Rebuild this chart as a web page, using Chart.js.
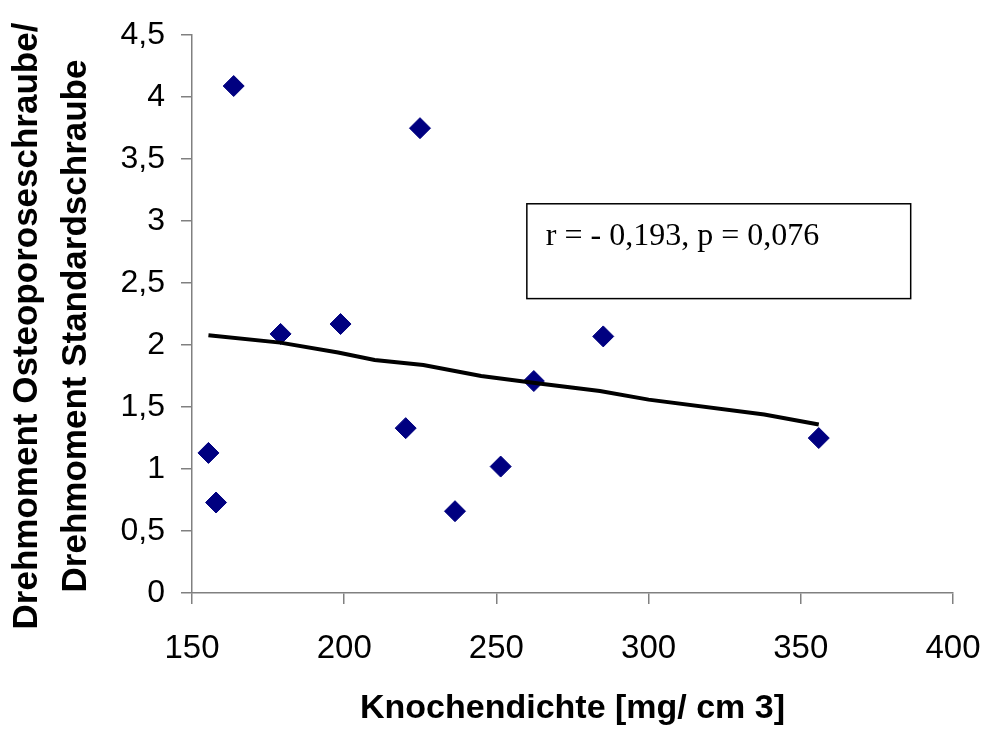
<!DOCTYPE html>
<html>
<head>
<meta charset="utf-8">
<script src="https://cdn.jsdelivr.net/npm/chart.js@4.4.1/dist/chart.umd.min.js"></script>
<style>
  html, body { margin: 0; padding: 0; background: #fff; }
  #wrap { width: 984px; height: 729px; position: relative; }
</style>
</head>
<body>
<div id="wrap"><canvas id="grafica"></canvas></div>
<script>
//--|datos|--//
const knochendichte = [155.4, 157.9, 163.7, 179.1, 198.8, 220.2, 224.9, 236.4, 251.4, 262.3, 285.1, 355.9];
const drehmomentRatio = [1.13, 0.73, 4.09, 2.09, 2.17, 1.33, 3.75, 0.66, 1.02, 1.71, 2.07, 1.25];
const trendX = [155.4, 179, 198, 210, 226, 245, 264, 284, 300, 338, 355.9];
const trendY = [2.08, 2.02, 1.94, 1.88, 1.84, 1.75, 1.69, 1.63, 1.56, 1.44, 1.36];
const xTicks = [150, 200, 250, 300, 350, 400];
const yTicks = [0, 0.5, 1, 1.5, 2, 2.5, 3, 3.5, 4, 4.5];
const yTitle = ['Drehmoment Osteoporoseschraube/', 'Drehmoment Standardschraube'];
const xTitle = 'Knochendichte [mg/ cm 3]';
const statText = "r = - 0,193, p = 0,076";
// Kasten in Datenkoordinaten
const statBox = { x0: 260, x1: 386.1, y0: 2.375, y1: 3.14 };

const FONT = '"Liberation Sans", Arial, sans-serif';

//--|caja_de_estadistica|--//
const statPlugin = {
    id: 'statBox',
    afterDatasetsDraw(chart) {
        const { ctx, scales } = chart;
        const left = scales.x.getPixelForValue(statBox.x0);
        const right = scales.x.getPixelForValue(statBox.x1);
        const top = scales.y.getPixelForValue(statBox.y1);
        const bottom = scales.y.getPixelForValue(statBox.y0);
        ctx.save();
        ctx.fillStyle = '#fff';
        ctx.fillRect(left, top, right - left, bottom - top);
        ctx.strokeStyle = '#000';
        ctx.lineWidth = 1.5;
        ctx.strokeRect(left, top, right - left, bottom - top);
        ctx.fillStyle = '#000';
        ctx.font = '32px "Liberation Serif", "Times New Roman", serif';
        ctx.textBaseline = 'middle';
        ctx.textAlign = 'left';
        ctx.fillText(statText, left + 19, top + 33);
        ctx.restore();
    }
};

//--|titulo_eje_y|--//
const yTitlePlugin = {
    id: 'yTitle',
    afterDraw(chart) {
        const { ctx } = chart;
        ctx.save();
        ctx.fillStyle = '#000';
        ctx.font = 'bold 35px ' + FONT;
        ctx.textAlign = 'center';
        ctx.textBaseline = 'middle';
        ctx.translate(0, 326);
        ctx.rotate(-Math.PI / 2);
        ctx.fillText(yTitle[0], 0, 27);
        ctx.fillText(yTitle[1], 0, 76);
        ctx.restore();
    }
};

const formatComma = v => String(v).replace('.', ',');

document.addEventListener("DOMContentLoaded", () => {
    const ctx = document.getElementById('grafica').getContext('2d');
    new Chart(ctx, {
        type: 'scatter',
        data: {
            datasets: [
                {
                    data: knochendichte.map((x, i) => ({ x: x, y: drehmomentRatio[i] })),
                    pointStyle: 'rectRot',
                    pointRadius: 10.5,
                    pointHoverRadius: 10.5,
                    backgroundColor: '#000080',
                    borderColor: '#000080',
                    borderWidth: 1,
                    order: 2
                },
                {
                    data: trendX.map((x, i) => ({ x: x, y: trendY[i] })),
                    showLine: true,
                    pointRadius: 0,
                    borderColor: '#000',
                    borderWidth: 4,
                    fill: false,
                    order: 1
                }
            ]
        },
        options: {
            responsive: true,
            maintainAspectRatio: false,
            animation: false,
            layout: { padding: { top: 34, right: 31, left: 0, bottom: 0 } },
            plugins: {
                legend: { display: false },
                tooltip: { enabled: false }
            },
            scales: {
                x: {
                    type: 'linear',
                    min: 150,
                    max: 400,
                    afterBuildTicks: s => { s.ticks = xTicks.map(v => ({ value: v })); },
                    afterFit: s => { s.height = 136; s.paddingLeft = 0; s.paddingRight = 0; },
                    border: { color: '#808080', width: 1.5 },
                    grid: { drawOnChartArea: false, tickLength: 11, color: '#808080', lineWidth: 1.5 },
                    ticks: {
                        color: '#000',
                        padding: 25,
                        font: { family: FONT, size: 33 },
                        maxRotation: 0
                    },
                    title: {
                        display: true,
                        text: xTitle,
                        color: '#000',
                        font: { family: FONT, size: 34, weight: 'bold' },
                        padding: { top: 0, bottom: 0 }
                    }
                },
                y: {
                    type: 'linear',
                    min: 0,
                    max: 4.5,
                    afterBuildTicks: s => { s.ticks = yTicks.map(v => ({ value: v })); },
                    afterFit: s => { s.width = 192; },
                    border: { color: '#808080', width: 1.5 },
                    grid: { drawOnChartArea: false, tickLength: 11, color: '#808080', lineWidth: 1.5 },
                    ticks: {
                        color: '#000',
                        padding: 16,
                        font: { family: FONT, size: 32 },
                        callback: v => formatComma(v)
                    },
                    title: { display: false }
                }
            }
        },
        plugins: [statPlugin, yTitlePlugin]
    });
});
</script>
</body>
</html>
